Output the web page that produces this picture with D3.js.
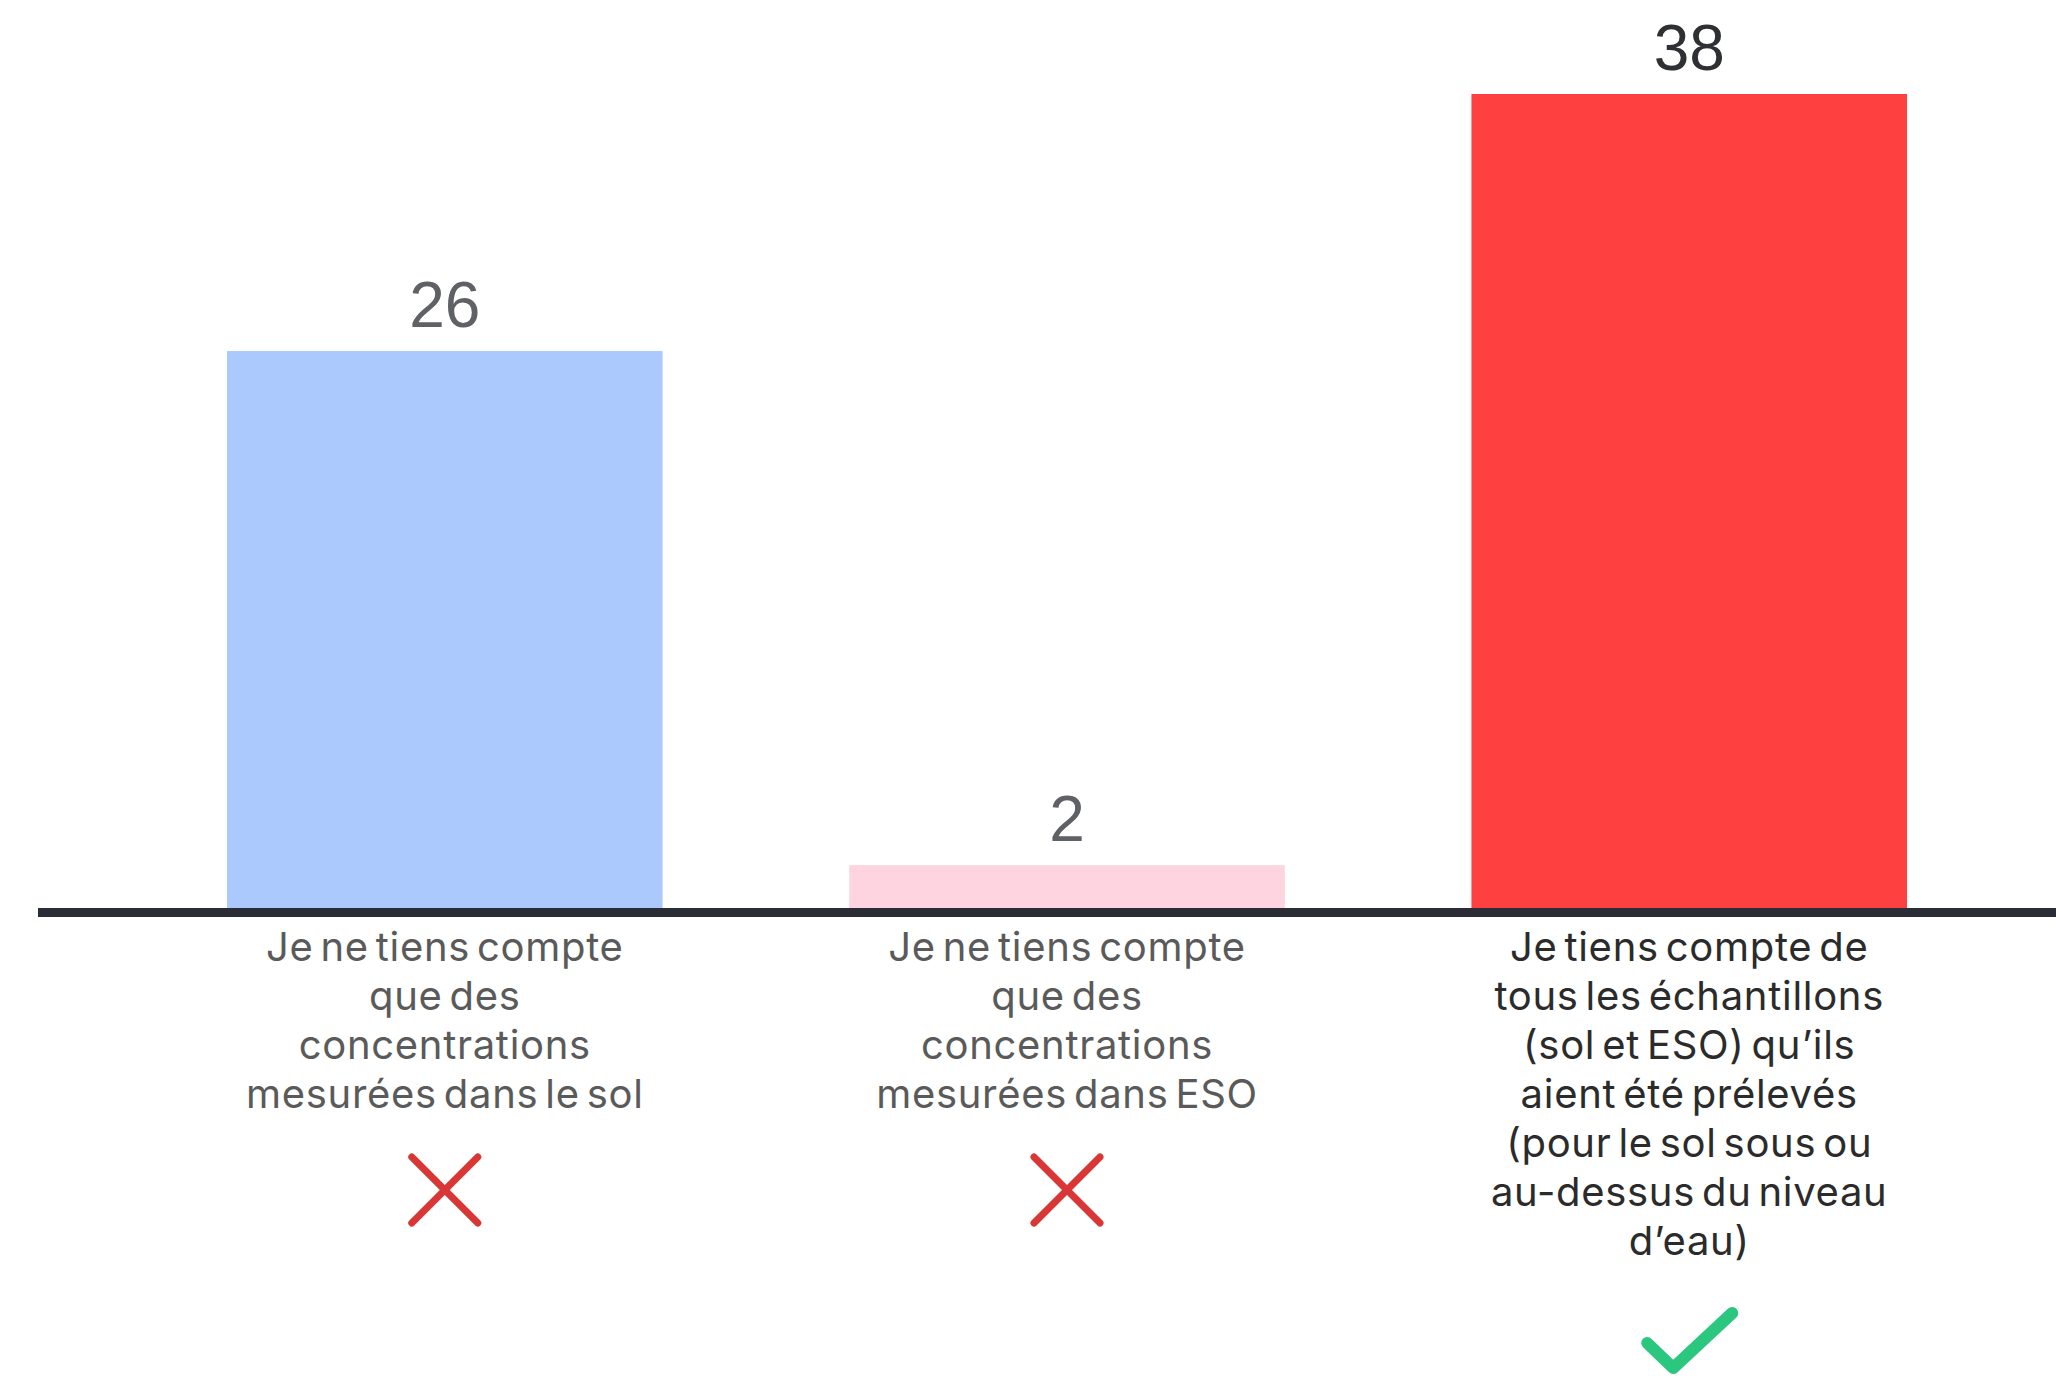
<!DOCTYPE html>
<html><head><meta charset="utf-8">
<script src="https://cdn.jsdelivr.net/npm/d3@7"></script>
<style>html,body{margin:0;padding:0;background:#fff;}svg{display:block;}</style>
</head><body>
<svg id="chart" width="2056" height="1381"></svg>
<script>
const categories = ["sol", "ESO", "tous"];
const values = [26, 2, 38];
const barColors = ["#abc9fd", "#fdd4df", "#ff4040"];
const valueColors = ["#5f6166", "#5f6166", "#2e3033"];
const labelColors = ["#5a5a5a", "#5a5a5a", "#2b2b2b"];
const labelLines = [
  ["Je ne tiens compte", "que des", "concentrations", "mesurées dans le sol"],
  ["Je ne tiens compte", "que des", "concentrations", "mesurées dans ESO"],
  ["Je tiens compte de", "tous les échantillons", "(sol et ESO) qu’ils", "aient été prélevés", "(pour le sol sous ou", "au-dessus du niveau", "d’eau)"]
];
const marks = ["cross", "cross", "check"];

const svg = d3.select("#chart");
const baseY = 908;
const x = d3.scaleBand().domain(categories).range([227, 1907]).paddingInner(0.3).paddingOuter(0);
const y = d3.scaleLinear().domain([0, 38]).range([baseY, 94]);

// bars
svg.selectAll("rect.bar").data(categories).join("rect")
  .attr("class", "bar")
  .attr("x", d => x(d))
  .attr("width", x.bandwidth())
  .attr("y", (d, i) => y(values[i]))
  .attr("height", (d, i) => y(0) - y(values[i]))
  .attr("fill", (d, i) => barColors[i]);

// axis baseline
svg.append("line")
  .attr("x1", 38).attr("x2", 2056)
  .attr("y1", baseY + 4.5).attr("y2", baseY + 4.5)
  .attr("stroke", "#2a2d35").attr("stroke-width", 9);

// value labels
svg.selectAll("text.val").data(categories).join("text")
  .attr("class", "val")
  .attr("x", d => x(d) + x.bandwidth() / 2)
  .attr("y", (d, i) => y(values[i]) - 24)
  .attr("text-anchor", "middle")
  .attr("font-family", "Liberation Sans, Arial, sans-serif")
  .attr("font-size", 64)
  .attr("fill", (d, i) => valueColors[i])
  .text((d, i) => values[i]);

// category labels
const lineH = 49;
categories.forEach((c, i) => {
  const cx = x(c) + x.bandwidth() / 2;
  const t = svg.append("text")
    .attr("text-anchor", "middle")
    .attr("font-family", "Inter, 'Noto Sans', sans-serif")
    .attr("font-size", 40)
    .attr("letter-spacing", 0.7)
    .attr("word-spacing", -5)
    .attr("fill", labelColors[i]);
  labelLines[i].forEach((ln, j) => {
    t.append("tspan").attr("x", cx).attr("y", 961 + j * lineH).text(ln);
  });
});

// icons
categories.forEach((c, i) => {
  const cx = x(c) + x.bandwidth() / 2;
  if (marks[i] === "cross") {
    const cy = 1190, r = 33;
    const g = svg.append("g").attr("stroke", "#d93636").attr("stroke-width", 7).attr("stroke-linecap", "round");
    g.append("line").attr("x1", cx - r).attr("y1", cy - r).attr("x2", cx + r).attr("y2", cy + r);
    g.append("line").attr("x1", cx + r).attr("y1", cy - r).attr("x2", cx - r).attr("y2", cy + r);
  } else {
    svg.append("path")
      .attr("d", `M${cx - 42},${1343} L${cx - 16},${1368} L${cx + 43},${1313}`)
      .attr("fill", "none").attr("stroke", "#2bc77e").attr("stroke-width", 12)
      .attr("stroke-linecap", "round").attr("stroke-linejoin", "round");
  }
});
</script>
</body></html>
